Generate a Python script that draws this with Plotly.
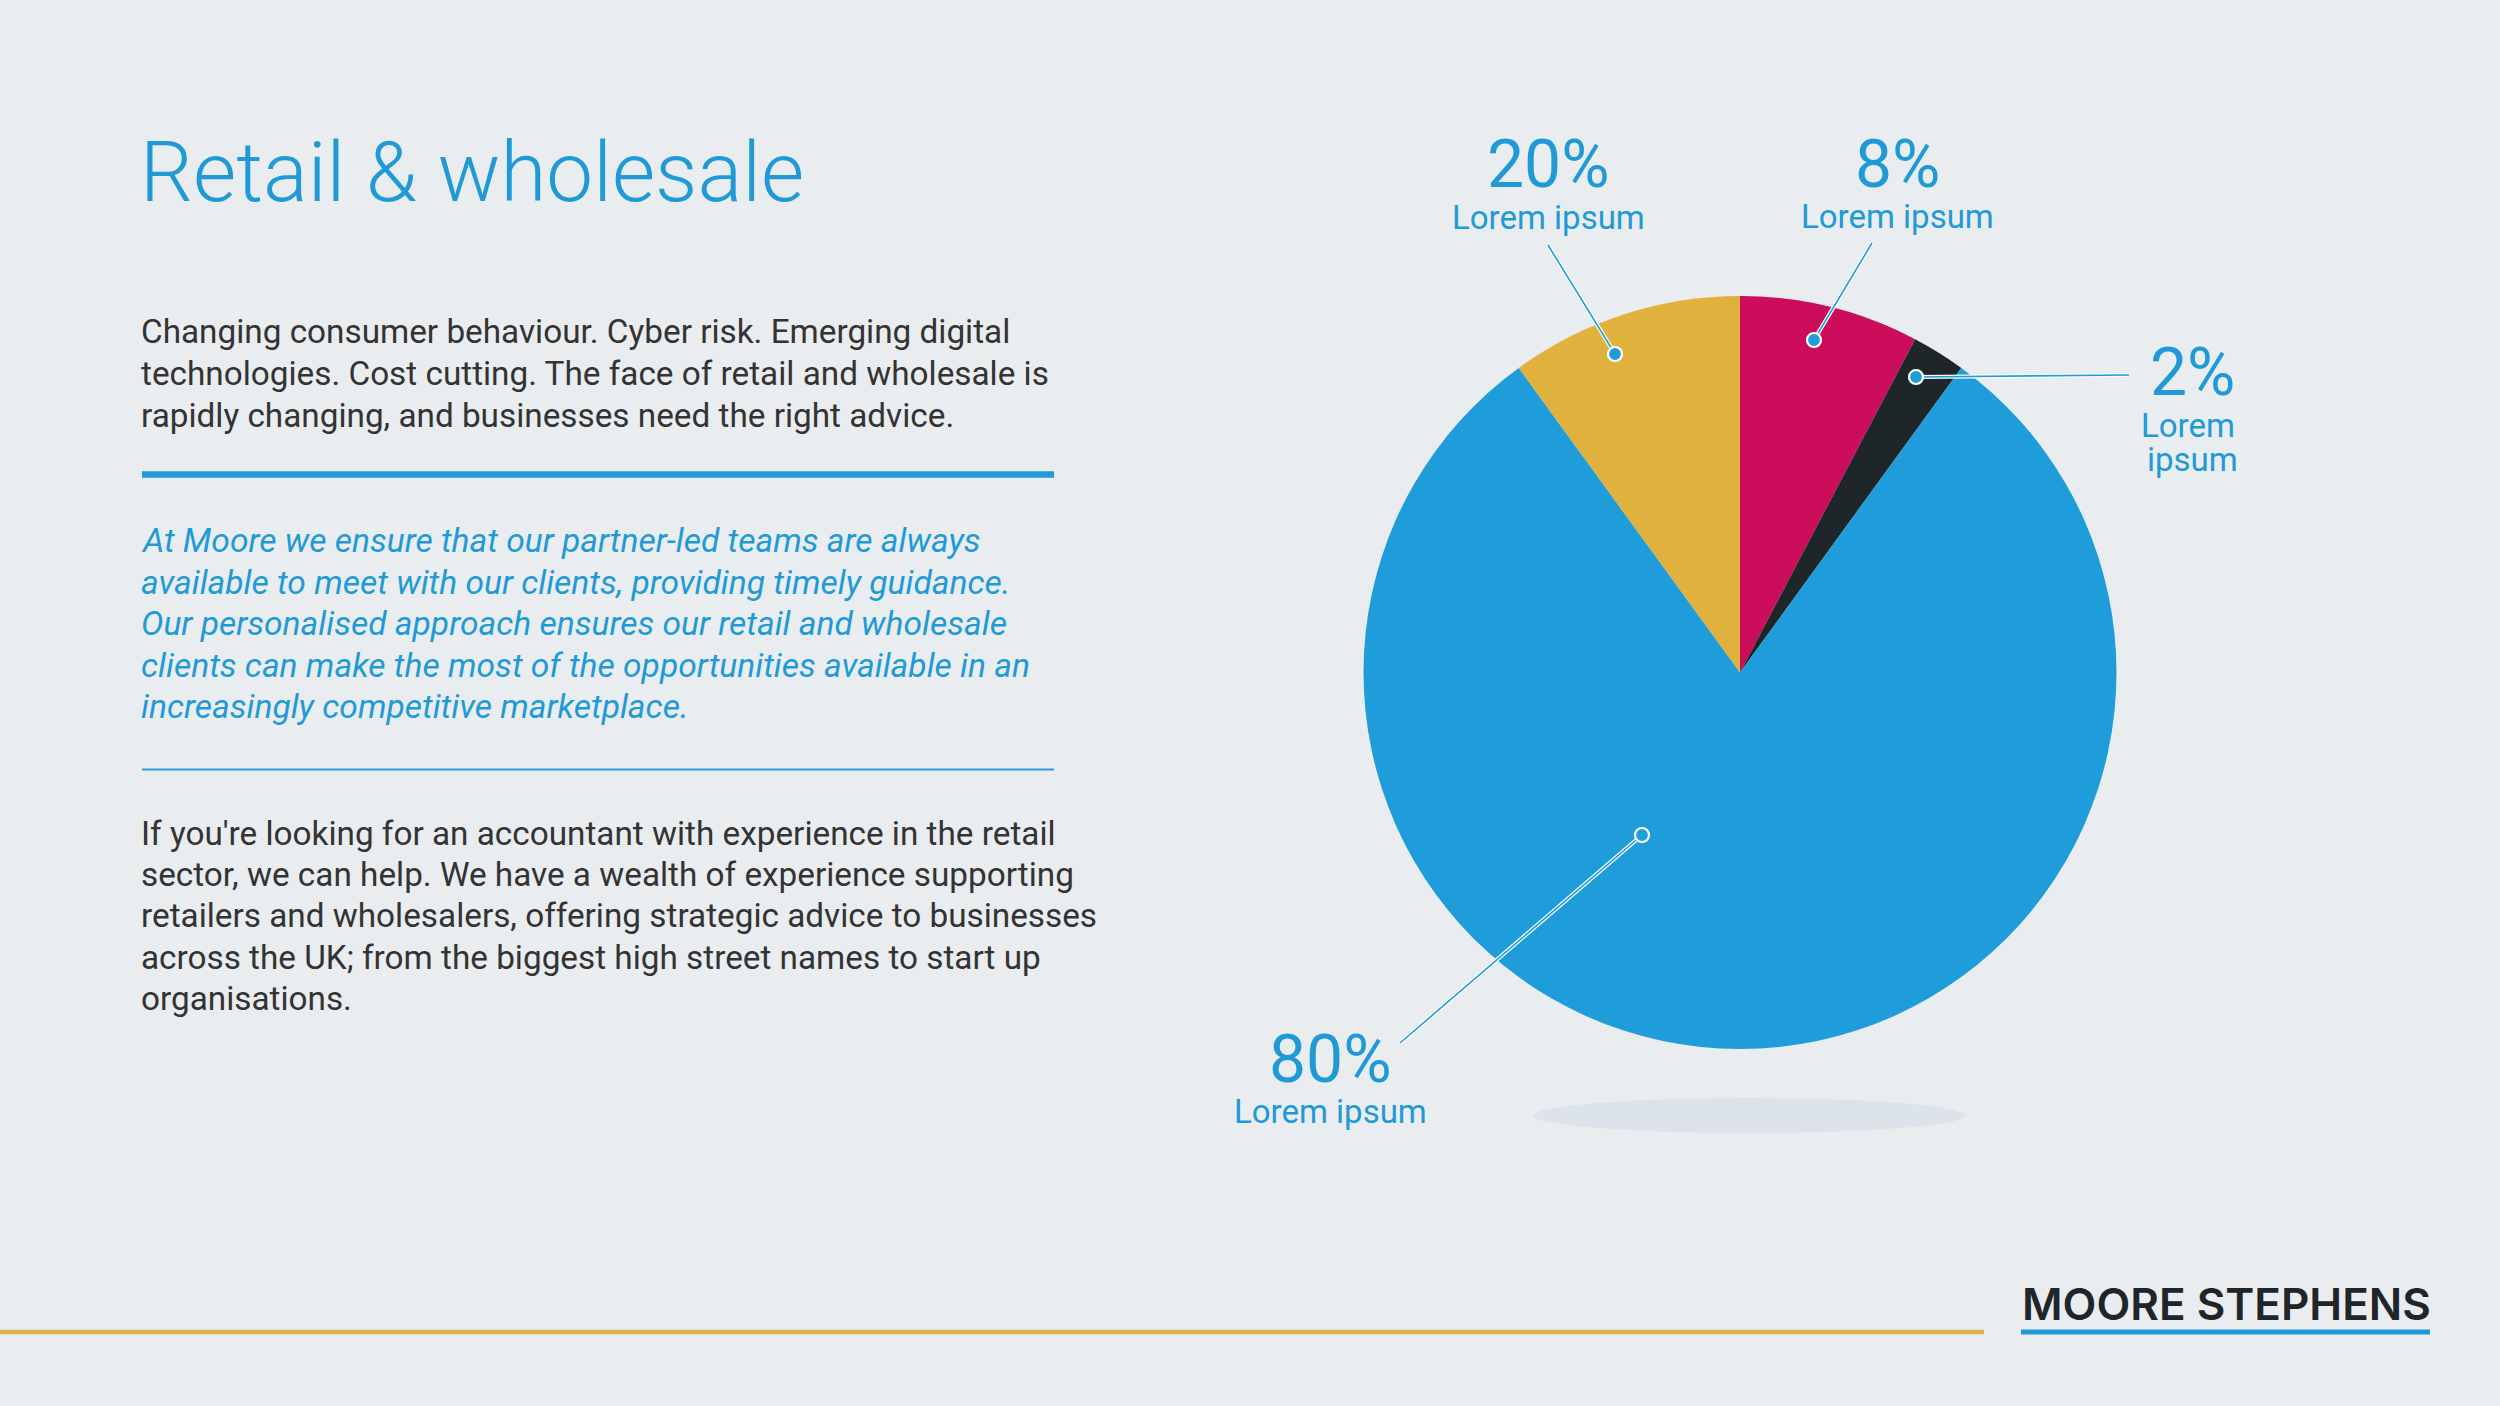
import plotly.graph_objects as go

W, H = 2500, 1406

# ---------------- data ----------------
slice_ids = ["8%", "2%", "80%", "20%"]           # callout values as printed
slice_values = [7.7, 2.3, 80.0, 10.0]             # slice shares as drawn
slice_names = ["Lorem ipsum", "Lorem ipsum", "Lorem ipsum", "Lorem ipsum"]

title_text = "Retail & wholesale"
intro_lines = [
    "Changing consumer behaviour. Cyber risk. Emerging digital",
    "technologies. Cost cutting. The face of retail and wholesale is",
    "rapidly changing, and businesses need the right advice.",
]
quote_lines = [
    "At Moore we ensure that our partner-led teams are always",
    "available to meet with our clients, providing timely guidance.",
    "Our personalised approach ensures our retail and wholesale",
    "clients can make the most of the opportunities available in an",
    "increasingly competitive marketplace.",
]
body_lines = [
    "If you're looking for an accountant with experience in the retail",
    "sector, we can help. We have a wealth of experience supporting",
    "retailers and wholesalers, offering strategic advice to businesses",
    "across the UK; from the biggest high street names to start up",
    "organisations.",
]
brand_text = "MOORE STEPHENS"

# ---------------- style / layout ----------------
BG = "#E9EDF0"
BLUE = "#1F9DDA"
TXT_BLUE = "#1F9AD6"
DARK = "#333333"
slice_colors = ["#CC0D5B", "#1E262A", BLUE, "#E0B13D"]

PIE_CX, PIE_CY, PIE_R = 1740, 672.5, 376.5

# callout layout (pixel coords): dot, leader end, label x, pct centre y, name centre y(s)
callouts = {
    "8%": dict(dot=(1814, 340), end=(1872, 243), x=1897, py=164, ny=[216]),
    "2%": dict(dot=(1916, 377), end=(2129, 375), x=2192, py=372, ny=[425.5, 459], nx=[2188, 2192]),
    "80%": dict(dot=(1642, 835), end=(1400, 1043), x=1330, py=1059, ny=[1111.4]),
    "20%": dict(dot=(1615, 354), end=(1548, 245), x=1548, py=164, ny=[217]),
}

BODY_SIZE = 33.3
QUOTE_SIZE = 33.6

fig = go.Figure()

fig.add_trace(go.Pie(
    labels=slice_ids,
    values=slice_values,
    marker=dict(colors=slice_colors, line=dict(width=0)),
    sort=False,
    direction="clockwise",
    rotation=0,
    textinfo="none",
    hoverinfo="skip",
    showlegend=False,
    domain=dict(
        x=[(PIE_CX - PIE_R) / W, (PIE_CX + PIE_R) / W],
        y=[(H - PIE_CY - PIE_R) / H, (H - PIE_CY + PIE_R) / H],
    ),
))

# invisible pixel-space overlay axes
fig.add_trace(go.Scatter(x=[0, W], y=[0, H], mode="markers",
                         marker=dict(opacity=0), hoverinfo="skip", showlegend=False))

shapes = []
annotations = []

# shadow under pie
shapes.append(dict(type="circle", xref="x", yref="y", x0=1533, x1=1965, y0=1098, y1=1133,
                   fillcolor="#DCE3EA", line=dict(width=0), layer="below"))

# rules
shapes.append(dict(type="line", xref="x", yref="y", x0=142, x1=1054, y0=474.5, y1=474.5,
                   line=dict(color="#2099D8", width=6.5), layer="above"))
shapes.append(dict(type="line", xref="x", yref="y", x0=142, x1=1054, y0=769.5, y1=769.5,
                   line=dict(color="#2E9BD6", width=2), layer="above"))
shapes.append(dict(type="line", xref="x", yref="y", x0=0, x1=1984, y0=1332, y1=1332,
                   line=dict(color="#E0B24A", width=4.5), layer="above"))
shapes.append(dict(type="line", xref="x", yref="y", x0=2021, x1=2430, y0=1332, y1=1332,
                   line=dict(color="#2099D8", width=5), layer="above"))

# callouts
for sid, name in zip(slice_ids, slice_names):
    c = callouts[sid]
    (dx, dy), (ex, ey) = c["dot"], c["end"]
    shapes.append(dict(type="line", xref="x", yref="y", x0=dx, y0=dy, x1=ex, y1=ey,
                       line=dict(color="white", width=4), layer="above"))
    shapes.append(dict(type="line", xref="x", yref="y", x0=dx, y0=dy, x1=ex, y1=ey,
                       line=dict(color=BLUE, width=1.6), layer="above"))
    r = 7
    shapes.append(dict(type="circle", xref="x", yref="y", x0=dx - r, x1=dx + r, y0=dy - r, y1=dy + r,
                       fillcolor=BLUE, line=dict(color="white", width=2.2), layer="above"))
    annotations.append(dict(xref="x", yref="y", x=c["x"], y=c["py"], text=sid, showarrow=False,
                            xanchor="center", yanchor="middle",
                            font=dict(family="Roboto", size=66, color=TXT_BLUE, weight=400)))
    words = name.split(" ") if len(c["ny"]) > 1 else [name]
    xs = c.get("nx", [c["x"]] * len(words))
    for w_, y_, x_ in zip(words, c["ny"], xs):
        annotations.append(dict(xref="x", yref="y", x=x_, y=y_, text=w_, showarrow=False,
                                xanchor="center", yanchor="middle",
                                font=dict(family="Roboto", size=33, color=TXT_BLUE)))


def add_lines(lines, x, first_baseline, spacing, color, size, italic=False):
    off = 0.342 * size
    for i, line in enumerate(lines):
        txt = "<i>" + line + "</i>" if italic else line
        annotations.append(dict(xref="x", yref="y", x=x, y=first_baseline + i * spacing - off,
                                text=txt, showarrow=False, xanchor="left", yanchor="middle",
                                align="left",
                                font=dict(family="Roboto", size=size, color=color,
                                          style="italic" if italic else "normal")))


# left column text
annotations.append(dict(xref="x", yref="y", x=138, y=172, text=title_text, showarrow=False,
                        xanchor="left", yanchor="middle",
                        font=dict(family="Roboto", size=83.5, color=TXT_BLUE, weight=300)))
add_lines(intro_lines, 139, 343.2, 41.6, DARK, BODY_SIZE)
add_lines(quote_lines, 139, 552.0, 41.5, TXT_BLUE, QUOTE_SIZE, italic=True)
add_lines(body_lines, 139, 844.5, 41.3, DARK, BODY_SIZE)

# brand
annotations.append(dict(xref="x", yref="y", x=2226, y=1304, text=brand_text, showarrow=False,
                        xanchor="center", yanchor="middle",
                        font=dict(family="Inter", size=44, color="#1E262A", weight=600)))

fig.update_layout(
    width=W, height=H, autosize=False,
    margin=dict(l=0, r=0, t=0, b=0, pad=0),
    paper_bgcolor=BG, plot_bgcolor=BG,
    xaxis=dict(range=[0, W], visible=False, domain=[0, 1], fixedrange=True),
    yaxis=dict(range=[H, 0], visible=False, domain=[0, 1], fixedrange=True),
    shapes=shapes, annotations=annotations,
    showlegend=False,
)

fig.write_html("out.html")
